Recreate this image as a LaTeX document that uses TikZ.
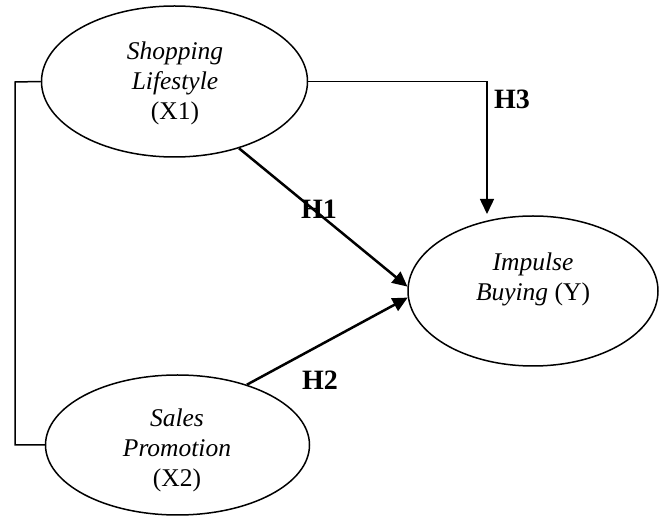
\documentclass[tikz,border=0pt]{standalone}
\usepackage{fontspec}
\setmainfont{Liberation Serif}
\usetikzlibrary{shapes.geometric,arrows.meta}
\begin{document}
\begin{tikzpicture}[x=1pt,y=-1pt,
  var/.style={ellipse,draw,line width=1.5pt,inner sep=0pt},
  txt/.style={font=\fontsize{25.5}{30}\selectfont,align=center,inner sep=0pt},
  lbl/.style={font=\fontsize{28}{32}\selectfont\bfseries,inner sep=0pt},
  thin/.style={line width=1.5pt},
  thick/.style={line width=2.5pt},
  tip/.style={-{Triangle[length=15pt,width=14pt]}}]
\useasboundingbox (0,0) rectangle (662,526);
\node[var,minimum width=266pt,minimum height=151pt] (e1) at (174.5,81.5) {};
\node[var,minimum width=264pt,minimum height=140pt] (e2) at (177.5,445) {};
\node[var,minimum width=250pt,minimum height=150pt] (e3) at (533,291) {};
\node[txt] (t1) at (175,83) {\textit{Shopping}\\\textit{Lifestyle}\\(X1)};
\node[txt] (t2) at (177,450) {\textit{Sales}\\\textit{Promotion}\\(X2)};
\node[txt] (t3) at (533,279) {\textit{Impulse}\\\textit{Buying} (Y)};
\coordinate (lb) at (15,82);
\coordinate (h3end) at (487,214);
\draw[thin] (e1.west) -- (lb) |- (e2.west);
\draw[thin,tip] (e1.east) -| (h3end);
\draw[thick,tip] (e1.-46) -- (e3.178);
\draw[thick,tip] (e2.41) -- (e3.183);
\node[lbl] (h1) at (319,209) {H1};
\node[lbl] (h2) at (320,380) {H2};
\node[lbl] (h3) at (512,99) {H3};
\end{tikzpicture}
\end{document}
